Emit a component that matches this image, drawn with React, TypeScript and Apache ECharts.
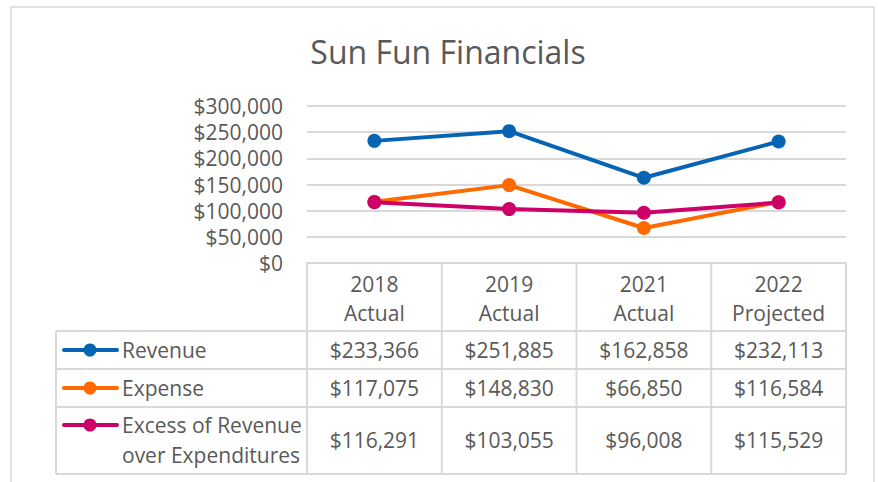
import React, { useEffect, useRef } from "react";
import * as echarts from "echarts";

const title = "Sun Fun Financials";
const categories = ["2018\nActual", "2019\nActual", "2021\nActual", "2022\nProjected"];
const seriesNames = ["Revenue", "Expense", "Excess of Revenue\nover Expenditures"];
const revenue = [233366, 251885, 162858, 232113];
const expense = [117075, 148830, 66850, 116584];
const excess = [116291, 103055, 96008, 115529];
const colors = ["#0565B4", "#FF6A00", "#CC0066"];
const yTicks = { min: 0, max: 300000, interval: 50000 };

const FONT = "'Open Sans', sans-serif";
const TEXT = "#595959";
const GRID = "#d9d9d9";

const fmt = (v: number) => "$" + v.toLocaleString("en-US");

export default function App() {
  const ref = useRef<HTMLDivElement>(null);
  useEffect(() => {
    if (!ref.current) return;
    const chart = echarts.init(ref.current, null, { renderer: "svg" });
    const data = [revenue, expense, excess];
    const gridLeft = 307, gridRight = 846, gridTop = 106, gridBottom = 263;
    chart.setOption({
      animation: false,
      backgroundColor: "#ffffff",
      title: {
        text: title,
        left: 443,
        top: 30,
        textAlign: "center",
        textStyle: { fontFamily: FONT, fontSize: 32, fontWeight: "normal", color: TEXT },
      },
      grid: { left: gridLeft, right: 878 - gridRight, top: gridTop, bottom: 482 - gridBottom, containLabel: false },
      xAxis: {
        type: "category",
        data: categories,
        boundaryGap: true,
        axisLine: { show: true, lineStyle: { color: GRID, width: 2 } },
        axisTick: { show: false },
        axisLabel: { fontFamily: FONT, fontSize: 21, color: TEXT, lineHeight: 29, margin: 6 },
        splitLine: { show: false },
      },
      yAxis: {
        type: "value",
        min: yTicks.min,
        max: yTicks.max,
        interval: yTicks.interval,
        axisLine: { show: false },
        axisTick: { show: false },
        axisLabel: { fontFamily: FONT, fontSize: 21, color: TEXT, margin: 24, formatter: (v: number) => fmt(v) },
        splitLine: { lineStyle: { color: GRID, width: 2 } },
      },
      series: seriesNames.map((n, i) => ({
        name: n,
        type: "line",
        data: data[i],
        symbol: "circle",
        symbolSize: 14,
        lineStyle: { color: colors[i], width: 4 },
        itemStyle: { color: colors[i] },
        z: 2 + i,
      })),
    });

    const xs = categories.map((_, i) => chart.convertToPixel({ xAxisIndex: 0 }, i) as number);
    const colW = (gridRight - gridLeft) / categories.length;
    const tableLeft = 56, tableBottom = 474;
    const rowLines = [331, 369, 407, tableBottom];
    const rowCenters = [350, 388, 440];
    const keyCenters = [350, 388, 425];
    const g: any[] = [];
    const ln = (x1: number, y1: number, x2: number, y2: number) => ({
      type: "line",
      shape: { x1, y1, x2, y2 },
      style: { stroke: GRID, lineWidth: 2 },
      silent: true,
    });
    // outer chart border
    g.push({ type: "rect", shape: { x: 11, y: 7, width: 863, height: 490 }, style: { fill: "none", stroke: GRID, lineWidth: 1.5 }, silent: true, z: -1 });
    // vertical lines of table
    for (let c = 0; c <= categories.length; c++) {
      const x = gridLeft + c * colW;
      g.push(ln(x, gridBottom, x, tableBottom));
    }
    g.push(ln(tableLeft, rowLines[0], tableLeft, tableBottom));
    rowLines.forEach((y) => g.push(ln(tableLeft, y, gridRight, y)));
    // legend keys and names
    seriesNames.forEach((n, i) => {
      const y = keyCenters[i];
      g.push({ type: "line", shape: { x1: 64, y1: y, x2: 117, y2: y }, style: { stroke: colors[i], lineWidth: 4, lineCap: "round" }, z: 10 });
      g.push({ type: "circle", shape: { cx: 90, cy: y, r: 6.5 }, style: { fill: colors[i] }, z: 11 });
      g.push({
        type: "text",
        x: 122,
        y: i === 2 ? 410 : y,
        style: {
          text: n,
          fontFamily: FONT,
          fontSize: 21,
          fill: TEXT,
          lineHeight: 30,
          textAlign: "left",
          textVerticalAlign: i === 2 ? "top" : "middle",
        },
        z: 10,
      });
      data[i].forEach((v, c) => {
        g.push({
          type: "text",
          x: xs[c],
          y: rowCenters[i],
          style: { text: fmt(v), fontFamily: FONT, fontSize: 21, fill: TEXT, textAlign: "center", textVerticalAlign: "middle" },
          z: 10,
        });
      });
    });
    chart.setOption({ graphic: g });
    return () => chart.dispose();
  }, []);
  return <div ref={ref} style={{ position: "fixed", left: 0, top: 0, width: 878, height: 482 }} />;
}
